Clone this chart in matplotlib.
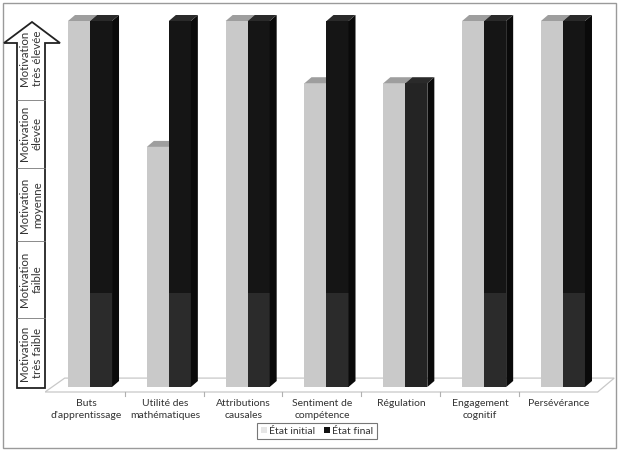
import numpy as np
import matplotlib
matplotlib.use("Agg")
import matplotlib.pyplot as plt
from matplotlib.patches import Polygon, Rectangle, Patch
from matplotlib.lines import Line2D

plt.rcParams["font.family"] = ["Lato", "DejaVu Sans"]

categories = ["Buts\nd'apprentissage", "Utilité des\nmathématiques", "Attributions\ncausales",
              "Sentiment de\ncompétence", "Régulation", "Engagement\ncognitif", "Persévérance"]
initial = [5, 3.28, 5, 4.15, 4.15, 5, 5]
final = [5, 5, 5, 5, 4.15, 5, 5]
levels = ["Motivation\ntrès élevée", "Motivation\nélevée", "Motivation\nmoyenne",
          "Motivation\nfaible", "Motivation\ntrès faible"]

W, H = 620, 450
fig = plt.figure(figsize=(6.2, 4.5), dpi=100)


def fx(px):
    return px / W


def fy(py):
    return (H - py) / H


# plot area in pixels
x0_px, x1_px = 45, 616
px_unit_x = 78.8
px_unit_y = 73.2
base_px = 387
xlo = -(90 - x0_px) / px_unit_x
xhi = 6 + (x1_px - 563) / px_unit_x
ylo, yhi = -0.1, 5.15
bot_px = base_px - ylo * px_unit_y
top_px = base_px - yhi * px_unit_y

ax = fig.add_axes([fx(x0_px), fy(bot_px), (x1_px - x0_px) / W, (bot_px - top_px) / H])
ax.set_xlim(xlo, xhi)
ax.set_ylim(ylo, yhi)
ax.axis("off")

n = len(categories)
pos = np.arange(n)
bw = 22 / px_unit_x
dx = 7 / px_unit_x
dy = 6 / px_unit_y

# floor
fl = -5 / px_unit_y
floor = Polygon([(xlo, fl), (n - 1 + 0.44, fl), (n - 1 + 0.44 + 0.21, fl + 0.19),
                 (xlo + 0.25, fl + 0.19)], closed=True, facecolor="white",
                edgecolor="#c8c8c8", lw=0.9, zorder=1)
ax.add_patch(floor)
for i in range(n - 1):
    ax.plot([i + 0.44, i + 0.44], [fl, fl - 0.05], color="#b0b0b0", lw=0.8, zorder=1,
            clip_on=False)

# gray bars
ax.bar(pos - bw / 2, initial, width=bw, color="#c9c9c9", zorder=2)
for x, h in zip(pos - bw, initial):
    ax.add_patch(Polygon([(x, h), (x + bw, h), (x + bw + dx, h + dy), (x + dx, h + dy)],
                         facecolor="#9e9e9e", edgecolor="none", zorder=2))

# black bars (scan makes the full ones two-toned)
full = [v >= 5 for v in final]
ax.bar(pos + bw / 2, final, width=bw, color=["#151515" if f else "#242424" for f in full],
       zorder=3)
ax.bar(pos[full] + bw / 2, [min(v, 1.28) for v, f in zip(final, full) if f], width=bw,
       color="#2b2b2b", zorder=3)
for x, h in zip(pos, final):
    ax.add_patch(Polygon([(x + bw, 0), (x + bw, h), (x + bw + dx, h + dy), (x + bw + dx, dy)],
                         facecolor="#0a0a0a", edgecolor="none", zorder=3))
    ax.add_patch(Polygon([(x, h), (x + bw, h), (x + bw + dx, h + dy), (x + dx, h + dy)],
                         facecolor="#2a2a2a", edgecolor="none", zorder=3))

for x, lab in zip(pos, categories):
    ax.text(x - 0.05, -0.16, lab, ha="center", va="top", fontsize=7.5, color="#333333",
            linespacing=1.45, clip_on=False)

# arrow on the y axis
arrow = Polygon([(fx(32), fy(22)), (fx(60), fy(43)), (fx(45), fy(43)), (fx(45), fy(388)),
                 (fx(17), fy(388)), (fx(17), fy(43)), (fx(4), fy(43))],
                closed=True, facecolor="white", edgecolor="#222222", lw=1.3,
                transform=fig.transFigure, zorder=5)
fig.add_artist(arrow)
for sep in [100, 168, 241, 318]:
    fig.add_artist(Line2D([fx(17), fx(45)], [fy(sep), fy(sep)], color="#777777", lw=0.6,
                          transform=fig.transFigure, zorder=6))
for yc, lab in zip([58, 133, 205, 279, 353], levels):
    fig.text(fx(31), fy(yc), lab, rotation=90, ha="center", va="center", fontsize=8.3,
             color="#333333", linespacing=1.2, zorder=7)

# legend
handles = [Patch(facecolor="#e6e6e6", edgecolor="none"), Patch(facecolor="#111111", edgecolor="none")]
leg = fig.legend(handles, ["État initial", "État final"], loc="center", ncol=2,
                 bbox_to_anchor=(fx(317), fy(431)), fontsize=7.5, frameon=True, fancybox=False,
                 handlelength=0.6, handleheight=0.6, handletextpad=0.2, columnspacing=0.8,
                 borderpad=0.35)
leg.get_frame().set_edgecolor("#555555")
leg.get_frame().set_linewidth(0.8)
for t in leg.get_texts():
    t.set_color("#333333")

# outer frame
fig.add_artist(Rectangle((fx(3), fy(448)), fx(613), (448 - 3) / H, fill=False,
                         edgecolor="#9a9a9a", lw=1.0, transform=fig.transFigure, zorder=0))

fig.savefig("out.png", dpi=100)
